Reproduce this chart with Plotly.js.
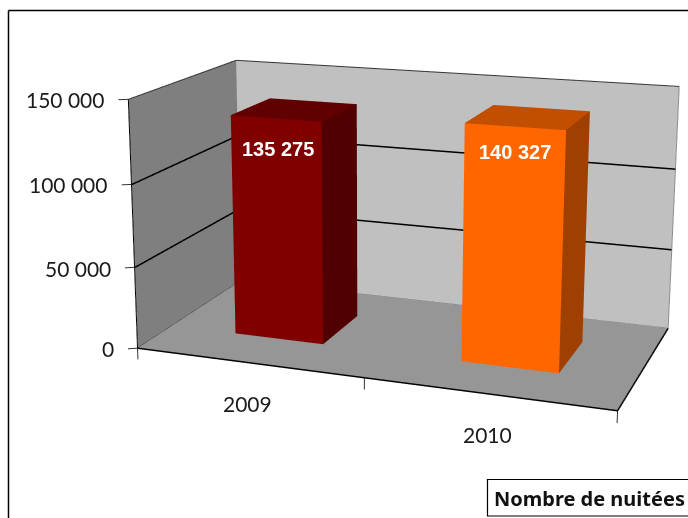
<!DOCTYPE html>
<html><head><meta charset="utf-8">
<script src="https://cdn.plot.ly/plotly-3.0.1.min.js"></script>
<style>html,body{margin:0;padding:0;background:#fff;overflow:hidden}#w{position:absolute;left:0;top:0;width:688px;height:518px;overflow:hidden}#c{position:absolute;left:-84px;top:-481px;width:840px;height:1365px}</style>
</head><body><div id="w"><div id="c"></div></div>
<script>
var categories=['2009','2010'];
var values=[135275,140327];
var tickVals=[0,50000,100000,150000];
var tickText=['0','50 000','100 000','150 000'];
var legendText='Nombre de nuitées';
var H=150000;
var XR=[-0.05,2.05],YR=[-0.05,1.05],ZR=[-8000,158000];
var PW=840,PH=1365,OL=-84,OT=-481;
var W=0.2004,Y0=0.3083,Y1=0.7004;
function fx(x){return (x-OL)/PW;}function fy(y){return 1-(y-OT)/PH;}
function col(a,i){return a.map(function(p){return p[i];});}
function quad(a,c){return {type:'mesh3d',x:col(a,0),y:col(a,1),z:col(a,2),i:[0,0],j:[1,2],k:[2,3],facecolor:[c,c],flatshading:true,hoverinfo:'skip',showscale:false,
 lighting:{ambient:1,diffuse:0,specular:0,roughness:1,fresnel:0}};}
function bar(cx,h,cf,cs,ct){var x0=cx-W,x1=cx+W;return [
 quad([[x0,Y0,0],[x1,Y0,0],[x1,Y0,h],[x0,Y0,h]],cf),
 quad([[x1,Y0,0],[x1,Y1,0],[x1,Y1,h],[x1,Y0,h]],cs),
 quad([[x0,Y0,h],[x1,Y0,h],[x1,Y1,h],[x0,Y1,h]],ct)];}
function line(pts,c,w){return {type:'scatter3d',mode:'lines',x:col(pts,0),y:col(pts,1),z:col(pts,2),line:{color:c,width:w},hoverinfo:'skip',showlegend:false};}
var T=[];
T.push(quad([[0,0,0],[0,1,0],[0,1,H],[0,0,H]],'#7f7f7f'));
T.push(quad([[0,1,0],[2,1,0],[2,1,H],[0,1,H]],'#c0c0c0'));
T.push(quad([[0,0,0],[2,0,0],[2,1,0],[0,1,0]],'#969696'));
T=T.concat(bar(0.5,values[0],'#800000','#500000','#600000'));
T=T.concat(bar(1.5,values[1],'#ff6600','#a04000','#c24e00'));
tickVals.slice(1,3).forEach(function(v){T.push(line([[0.002,0,v],[0.002,0.998,v],[2,0.998,v]],'#000',3));});
T.push(line([[0,0,H],[0,1,H],[2,1,H]],'#333',2));
T.push(line([[2,1,H],[2,1,0]],'#8a8a8a',2));
T.push(line([[0,0,H],[0,0,0]],'#000',2));
T.push(line([[0,0,0],[2,0,0],[2,1,0]],'#000',3));
T.push(line([[0,0,300],[0,1,300]],'#222',1));
T.push(line([[0,1,300],[2,1,300]],'#666',1));
tickVals.forEach(function(v){T.push(line([[0,0,v],[-0.0335,-0.0198,v]],'#333',2));});
[0,1,2].forEach(function(v){T.push(line([[v,0,0],[v,0,-7000]],'#333',2));});
var ann=[];
tickVals.forEach(function(v,i){ann.push({x:0,y:0,z:v,text:tickText[i],showarrow:false,xanchor:'right',xshift:-22,yshift:i==1?-1:0,font:{family:'Lato',size:21,color:'#1a1a1a'}});});
categories.forEach(function(c,i){ann.push({x:i+0.5,y:0,z:0,text:c,showarrow:false,yshift:-41,font:{family:'Lato',size:21,color:'#1a1a1a'}});});
var labelShiftX=[2,0.5],labelShiftY=[3,10];
values.forEach(function(v,i){ann.push({x:i+0.5,y:Y0,z:v-20000,xshift:labelShiftX[i],yshift:labelShiftY[i],text:String(v).replace(/(\d{3})$/,' $1'),showarrow:false,font:{family:'Liberation Sans',size:20,color:'#fff',weight:700}});});
var layout={width:PW,height:PH,margin:{l:0,r:0,t:0,b:0},paper_bgcolor:'#fff',showlegend:false,dragmode:false,
 scene:{domain:{x:[0,1],y:[0,1]},aspectmode:'manual',aspectratio:{x:1,y:0.5348,z:0.5502},
  camera:{eye:{x:1.0151,y:-2.9592,z:0.8209},center:{x:-0.1332,y:-0.0439,z:0.0317},up:{x:-0.0841,y:0.2294,z:0.9697},projection:{type:'perspective'}},
  xaxis:{visible:false,range:XR},yaxis:{visible:false,range:YR},zaxis:{visible:false,range:ZR},annotations:ann},
 shapes:[{type:'line',xref:'paper',yref:'paper',x0:fx(8.5),x1:fx(8.5),y0:fy(518),y1:fy(10.5),line:{color:'#000',width:1.5}},
  {type:'line',xref:'paper',yref:'paper',x0:fx(8.5),x1:fx(688),y0:fy(10.5),y1:fy(10.5),line:{color:'#000',width:1.5}},
  {type:'rect',xref:'paper',yref:'paper',x0:fx(487.5),x1:fx(700),y0:fy(516),y1:fy(479.5),line:{color:'#000',width:1.2},fillcolor:'#fff'}],
 annotations:[{xref:'paper',yref:'paper',x:fx(589.5),y:fy(498),xanchor:'center',yanchor:'middle',text:'<b>'+legendText+'</b>',showarrow:false,font:{family:'Noto Sans',size:20,color:'#111'}}]};
Plotly.newPlot('c',T,layout,{displayModeBar:false});
</script></body></html>
